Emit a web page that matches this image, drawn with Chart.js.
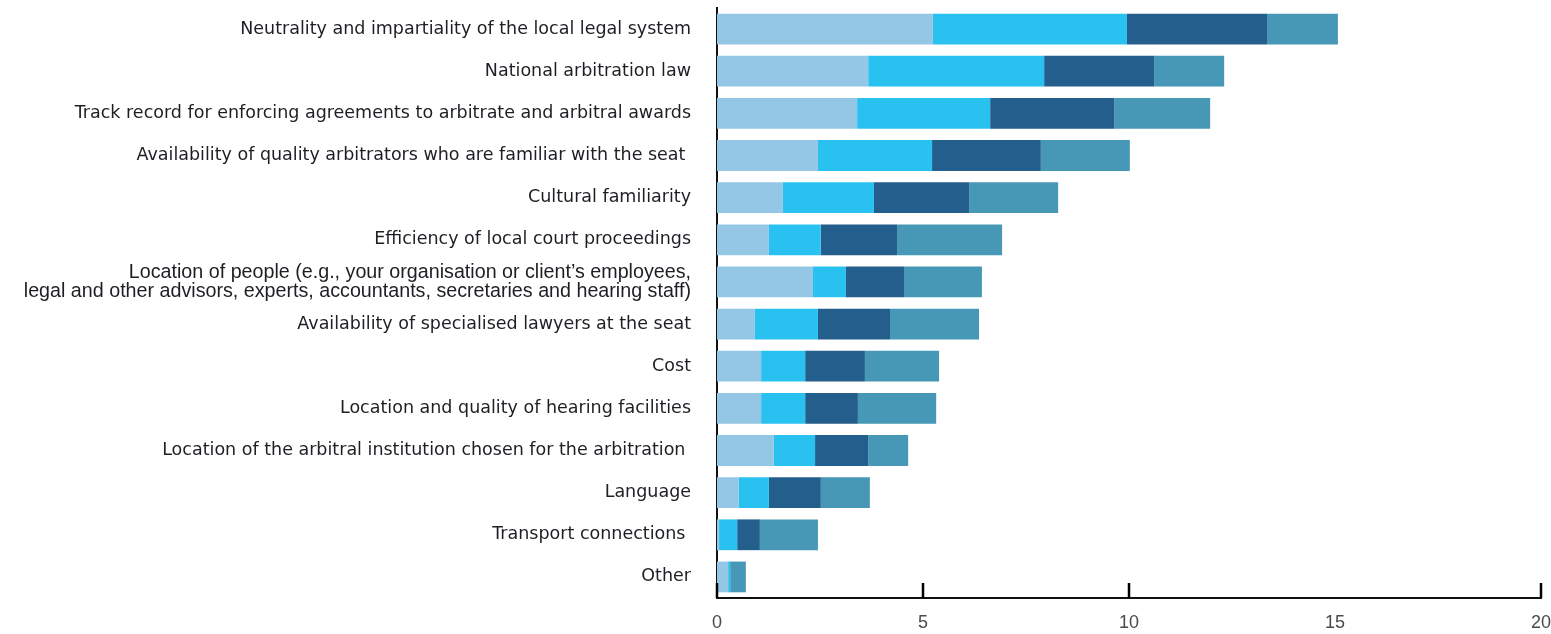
<!DOCTYPE html>
<html>
<head>
<meta charset="utf-8">
<script src="https://cdn.jsdelivr.net/npm/chart.js@4.4.0/dist/chart.umd.min.js"></script>
<style>
  html, body { margin: 0; padding: 0; background: #fff; }
  #wrap { width: 1551px; height: 634px; position: relative; }
</style>
</head>
<body>
<div id="wrap"><canvas id="chart"></canvas></div>
<script>
const categories = [
  'Neutrality and impartiality of the local legal system',
  'National arbitration law',
  'Track record for enforcing agreements to arbitrate and arbitral awards',
  'Availability of quality arbitrators who are familiar with the seat ',
  'Cultural familiarity',
  'Efficiency of local court proceedings',
  ['Location of people (e.g., your organisation or client\u2019s employees,', 'legal and other advisors, experts, accountants, secretaries and hearing staff)'],
  'Availability of specialised lawyers at the seat',
  'Cost',
  'Location and quality of hearing facilities',
  'Location of the arbitral institution chosen for the arbitration ',
  'Language',
  'Transport connections ',
  'Other'
];

const seriesA = [5.24, 3.67, 3.40, 2.45, 1.60, 1.26, 2.33, 0.92, 1.07, 1.07, 1.38, 0.53, 0.05, 0.27];
const seriesB = [4.71, 4.27, 3.23, 2.77, 2.21, 1.26, 0.80, 1.53, 1.07, 1.07, 1.00, 0.73, 0.44, 0.05];
const seriesC = [3.40, 2.67, 3.01, 2.64, 2.31, 1.85, 1.41, 1.75, 1.45, 1.28, 1.29, 1.26, 0.55, 0.00];
const seriesD = [1.72, 1.70, 2.33, 2.16, 2.16, 2.55, 1.89, 2.16, 1.80, 1.90, 0.97, 1.19, 1.41, 0.38];

const xTicks = [0, 5, 10, 15, 20];
const xTickMarks = [0, 5, 10, 20];   // the original has no mark at 15

const colours = ['#94c7e6', '#29c2f0', '#245e8c', '#4797b6'];

// upward tick marks on the bottom axis
const upTicks = {
  id: 'upTicks',
  afterDraw(chart) {
    const x = chart.scales.x;
    const ctx = chart.ctx;
    ctx.save();
    ctx.strokeStyle = '#000';
    ctx.lineWidth = 2.5;
    xTickMarks.forEach(v => {
      const px = Math.round(x.getPixelForValue(v));
      ctx.beginPath();
      ctx.moveTo(px, x.top);
      ctx.lineTo(px, x.top - 15);
      ctx.stroke();
    });
    ctx.restore();
  }
};

new Chart(document.getElementById('chart'), {
  type: 'bar',
  data: {
    labels: categories,
    datasets: [seriesA, seriesB, seriesC, seriesD].map((d, i) => ({
      data: d,
      backgroundColor: colours[i],
      borderWidth: 0,
      categoryPercentage: 1,
      barPercentage: 0.73
    }))
  },
  options: {
    indexAxis: 'y',
    responsive: true,
    maintainAspectRatio: false,
    animation: false,
    layout: { padding: { top: 8, right: 10, left: 0, bottom: 0 } },
    plugins: { legend: { display: false }, tooltip: { enabled: false } },
    scales: {
      x: {
        stacked: true,
        min: 0,
        max: 20,
        afterBuildTicks: s => { s.ticks = xTicks.map(v => ({ value: v })); },
        afterFit: s => { s.height = 36; s.paddingLeft = 0; s.paddingRight = 0; },
        grid: { display: false, drawTicks: false },
        border: { display: true, color: '#111', width: 2 },
        ticks: {
          padding: 14,
          color: '#4a4a4a',
          font: { family: "'Liberation Sans Narrow', 'Liberation Sans', Arial, sans-serif", size: 18 }
        }
      },
      y: {
        stacked: true,
        afterFit: s => { s.width = 717; s.paddingTop = 0; s.paddingBottom = 0; },
        grid: { display: false, drawTicks: false },
        border: { display: true, color: '#111', width: 2 },
        ticks: {
          padding: 26,
          color: '#1e1e24',
          font: c => c.index === 6
            ? { family: "'Liberation Sans', Arial, sans-serif", size: 19.7, lineHeight: 0.97 }
            : { family: "'DejaVu Sans', sans-serif", size: 17.5 }
        }
      }
    }
  },
  plugins: [upTicks]
});
</script>
</body>
</html>
